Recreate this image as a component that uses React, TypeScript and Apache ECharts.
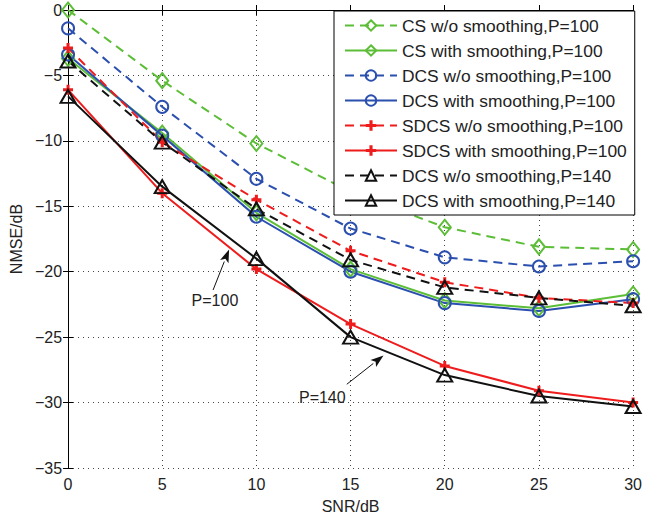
import React, { useEffect, useRef } from "react";
import * as echarts from "echarts";

const snr = [0, 5, 10, 15, 20, 25, 30];
const csWo100 = [0, -5.4, -10.2, -13.9, -16.6, -18.1, -18.3];
const csWith100 = [-3.7, -9.4, -15.5, -19.8, -22.2, -22.8, -21.7];
const dcsWo100 = [-1.4, -7.4, -12.9, -16.7, -18.9, -19.6, -19.2];
const dcsWith100 = [-3.4, -9.6, -15.8, -20.0, -22.4, -23.0, -22.1];
const sdcsWo100 = [-2.9, -10.1, -14.5, -18.4, -20.8, -22.0, -22.4];
const sdcsWith100 = [-6.1, -14.0, -19.8, -24.0, -27.2, -29.1, -30.0];
const dcsWo140 = [-3.9, -10.1, -15.2, -19.1, -21.2, -22.0, -22.6];
const dcsWith140 = [-6.6, -13.5, -19.0, -25.0, -27.9, -29.5, -30.3];

const names = [
  "CS w/o smoothing,P=100",
  "CS with smoothing,P=100",
  "DCS w/o smoothing,P=100",
  "DCS with smoothing,P=100",
  "SDCS w/o smoothing,P=100",
  "SDCS with smoothing,P=100",
  "DCS w/o smoothing,P=140",
  "DCS with smoothing,P=140",
];

// annotation anchors in data coordinates: [text, arrowTail, arrowTip]
const annP100 = { label: "P=100", text: [7.8, -22.2], tail: [7.7, -21.4], tip: [8.55, -18.3] };
const annP140 = { label: "P=140", text: [13.5, -29.6], tail: [14.8, -28.6], tip: [16.75, -26.4] };

const GREEN = "#5cbd36";
const BLUE = "#2b4fae";
const RED = "#ee1c1c";
const BLACK = "#111111";
const FONT = "Liberation Sans, Arial, sans-serif";
const PLUS = "path://M3.5,0H6.5V3.5H10V6.5H6.5V10H3.5V6.5H0V3.5H3.5Z";

function mk(name: string, vals: number[], color: string, dashed: boolean, symbol: string, size: number | number[], hollow: boolean) {
  return {
    name,
    type: "line",
    data: snr.map((x, i) => [x, vals[i]]),
    clip: false,
    symbol,
    symbolSize: size,
    showAllSymbol: true,
    lineStyle: { color, width: 2, type: dashed ? [9, 6] : "solid" },
    itemStyle: hollow
      ? { color: "rgba(255,255,255,0)", borderColor: color, borderWidth: 2 }
      : { color, borderColor: color, borderWidth: 0 },
    emphasis: { disabled: true },
  };
}

export default function App() {
  const ref = useRef<HTMLDivElement>(null);
  useEffect(() => {
    if (!ref.current) return;
    document.body.style.margin = "0";
    const chart = echarts.init(ref.current, undefined, { renderer: "svg" });
    const minusFmt = (v: number) => String(v).replace("-", "\u2212");
    chart.setOption({
      animation: false,
      backgroundColor: "#fff",
      textStyle: { fontFamily: FONT },
      grid: { left: 67, right: 9, top: 10, bottom: 50 },
      legend: {
        orient: "vertical",
        left: 334,
        top: 11,
        padding: [6, 8, 6, 10],
        itemWidth: 52,
        itemHeight: 13,
        itemGap: 8,
        borderColor: "#000",
        borderWidth: 1,
        borderRadius: 0,
        backgroundColor: "#fff",
        textStyle: { fontFamily: FONT, fontSize: 17.4, color: "#222", lineHeight: 17 },
        data: names,
      },
      xAxis: [
        {
          type: "value",
          min: 0,
          max: 30,
          interval: 5,
          name: "SNR/dB",
          nameLocation: "middle",
          nameGap: 30,
          nameTextStyle: { fontSize: 16, color: "#222", fontFamily: FONT },
          axisLine: { lineStyle: { color: "#000", width: 1 } },
          axisTick: { inside: true, length: 5, lineStyle: { color: "#000" } },
          axisLabel: { fontSize: 16, color: "#222", margin: 8, fontFamily: FONT },
          splitLine: { show: true, lineStyle: { color: "#444", type: [1, 4], width: 1 } },
        },
        {
          type: "value",
          position: "top",
          min: 0,
          max: 30,
          interval: 5,
          axisLine: { show: true, lineStyle: { color: "#000", width: 1 } },
          axisTick: { inside: true, length: 5, lineStyle: { color: "#000" } },
          axisLabel: { show: false },
          splitLine: { show: false },
        },
      ],
      yAxis: [
        {
          type: "value",
          min: -35,
          max: 0,
          interval: 5,
          name: "NMSE/dB",
          nameLocation: "middle",
          nameGap: 37,
          nameTextStyle: { fontSize: 16, color: "#222", fontFamily: FONT },
          axisLine: { show: true, lineStyle: { color: "#000", width: 1 } },
          axisTick: { inside: true, length: 5, lineStyle: { color: "#000" } },
          axisLabel: { fontSize: 16, color: "#222", margin: 6, formatter: minusFmt, fontFamily: FONT },
          splitLine: { show: true, lineStyle: { color: "#444", type: [1, 4], width: 1 } },
        },
        {
          type: "value",
          position: "right",
          min: -35,
          max: 0,
          interval: 5,
          axisLine: { show: true, lineStyle: { color: "#000", width: 1 } },
          axisTick: { inside: true, length: 5, lineStyle: { color: "#000" } },
          axisLabel: { show: false },
          splitLine: { show: false },
        },
      ],
      series: [
        mk(names[0], csWo100, GREEN, true, "diamond", [12, 15], true),
        mk(names[1], csWith100, GREEN, false, "diamond", [12, 15], true),
        mk(names[2], dcsWo100, BLUE, true, "circle", 12, true),
        mk(names[3], dcsWith100, BLUE, false, "circle", 12, true),
        mk(names[4], sdcsWo100, RED, true, PLUS, 10, false),
        mk(names[5], sdcsWith100, RED, false, PLUS, 10, false),
        mk(names[6], dcsWo140, BLACK, true, "triangle", [15, 13], true),
        mk(names[7], dcsWith140, BLACK, false, "triangle", [15, 13], true),
      ],
    });

    const toPx = (p: number[]) => chart.convertToPixel({ xAxisIndex: 0, yAxisIndex: 0 }, p) as number[];
    const arrow = (ann: { label: string; text: number[]; tail: number[]; tip: number[] }) => {
      const t = toPx(ann.text);
      const a = toPx(ann.tail);
      const b = toPx(ann.tip);
      const dx = b[0] - a[0];
      const dy = b[1] - a[1];
      const len = Math.sqrt(dx * dx + dy * dy);
      const ux = dx / len;
      const uy = dy / len;
      const hl = 13;
      const hw = 4.5;
      const bx = b[0] - ux * hl;
      const by = b[1] - uy * hl;
      return [
        {
          type: "line",
          shape: { x1: a[0], y1: a[1], x2: bx, y2: by },
          style: { stroke: "#111", lineWidth: 1 },
          silent: true,
        },
        {
          type: "polygon",
          shape: {
            points: [
              [b[0], b[1]],
              [bx - uy * hw, by + ux * hw],
              [bx + ux * 3, by + uy * 3],
              [bx + uy * hw, by - ux * hw],
            ],
          },
          style: { fill: "#111" },
          silent: true,
        },
        {
          type: "text",
          x: t[0],
          y: t[1],
          style: {
            text: ann.label,
            fontSize: 16,
            fontFamily: FONT,
            fill: "#222",
            align: "center",
            verticalAlign: "middle",
          },
          silent: true,
        },
      ];
    };
    chart.setOption({ graphic: [...arrow(annP100), ...arrow(annP140)] });
    return () => chart.dispose();
  }, []);
  return <div ref={ref} style={{ width: 645, height: 519 }} />;
}
